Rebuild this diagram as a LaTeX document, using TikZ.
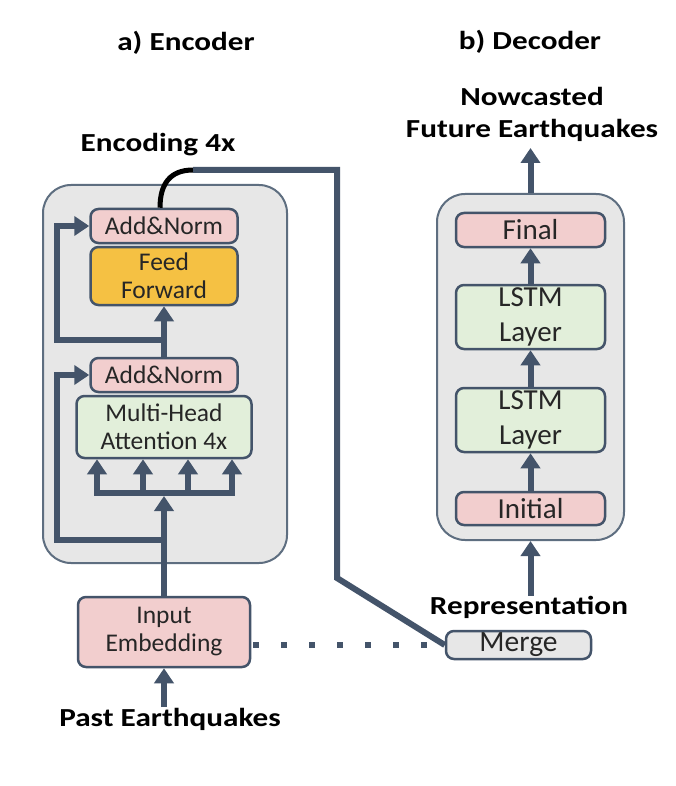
\documentclass[tikz,border=0pt]{standalone}
\usepackage{fontspec}
\setmainfont{Carlito}
\newfontfamily\ttlfont{Carlito}[FakeStretch=1.2]
\usetikzlibrary{arrows.meta}
\definecolor{navy}{HTML}{44546A}
\definecolor{pinkf}{HTML}{F2CECE}
\definecolor{greenf}{HTML}{E2EFDA}
\definecolor{goldf}{HTML}{F5C143}
\definecolor{contf}{HTML}{E7E7E7}
\definecolor{contb}{HTML}{5E6E80}
\definecolor{grayf}{HTML}{E7E7E7}
\definecolor{txt}{HTML}{262626}
\tikzset{
  box/.style={draw=navy, line width=2.5pt, rounded corners=8pt, text=txt,
    font=\fontsize{25.5}{28}\selectfont, align=center, inner sep=0pt},
  pinkbox/.style={box, fill=pinkf},
  greenbox/.style={box, fill=greenf},
  goldbox/.style={box, fill=goldf},
  graybox/.style={box, fill=grayf},
  decfont/.style={font=\fontsize{29}{35}\selectfont},
  cont/.style={draw=contb, line width=2pt, fill=contf, rounded corners=28pt, inner sep=0pt},
  conn/.style={draw=navy, line width=6pt},
  arr/.style={conn, -{Triangle[width=19pt,length=15pt]}},
  ttl/.style={font=\ttlfont\bfseries\fontsize{26}{32}\selectfont, align=center, inner sep=0pt, text=black}
}
\begin{document}
\begin{tikzpicture}[x=1pt,y=-1pt]
\fill[white] (0,0) rectangle (676,786);
\useasboundingbox (0,0) rectangle (676,786);
% containers
\node[cont, minimum width=244pt, minimum height=378pt] (enc) at (165,374) {};
\node[cont, minimum width=187pt, minimum height=346pt] (dec) at (530.5,367) {};
% encoder boxes
\node[pinkbox, minimum width=147pt, minimum height=34pt] (an2) at (164,226) {Add\&Norm};
\node[goldbox, minimum width=147pt, minimum height=58pt] (ff) at (164,276) {Feed\\Forward};
\node[pinkbox, minimum width=147pt, minimum height=34pt] (an1) at (164,375) {Add\&Norm};
\node[greenbox, minimum width=175pt, minimum height=62pt] (mha) at (164,427) {Multi-Head\\Attention 4x};
\node[pinkbox, minimum width=172pt, minimum height=70pt] (emb) at (164,632) {Input\\Embedding};
\node[graybox, minimum width=145pt, minimum height=28pt, font=\fontsize{29.5}{30}\selectfont] (merge) at (518.5,645) {Merge};
% decoder boxes
\node[pinkbox, decfont, minimum width=149pt, minimum height=34pt] (final) at (530.5,230) {Final};
\node[greenbox, decfont, minimum width=149pt, minimum height=64pt] (lstmb) at (530.5,317) {LSTM\\Layer};
\node[greenbox, decfont, minimum width=149pt, minimum height=64pt] (lstma) at (530.5,420) {LSTM\\Layer};
\node[pinkbox, decfont, minimum width=149pt, minimum height=33pt] (init) at (530.5,508.5) {Initial};
% labels
\node[ttl] (tenc) at (186,43) {a) Encoder};
\node[ttl] (tdec) at (530,42) {b) Decoder};
\node[ttl] (tencx) at (158,145) {Encoding 4x};
\node[ttl] (tout) at (532,114) {Nowcasted\\Future Earthquakes};
\node[ttl] (trep) at (529,607) {Representation};
\node[ttl] (tpast) at (170,719) {Past Earthquakes};
% coordinates
\coordinate (pasttail) at (164,707);
\coordinate (bartip) at (164,496);
\coordinate (b1) at (97,493);
\coordinate (b2) at (143,493);
\coordinate (b3) at (188,493);
\coordinate (b4) at (232,493);
\coordinate (r1) at (164,540);
\coordinate (l1) at (57,540);
\coordinate (r2) at (164,340);
\coordinate (l2) at (57,340);
\coordinate (c1) at (193,170);
\coordinate (c2) at (337,170);
\coordinate (c3) at (337,578);
\coordinate (outtip) at (530.5,148);
% encoder connectors
\draw[arr] (pasttail) -- (emb.south);
\draw[arr] (emb.north) -- (bartip);
\draw[conn, line cap=rect] (b1) -- (b4);
\draw[arr] (b1) -- (b1 |- mha.south);
\draw[arr] (b2) -- (b2 |- mha.south);
\draw[arr] (b3) -- (b3 |- mha.south);
\draw[arr] (b4) -- (b4 |- mha.south);
\draw[arr] (r1) -- (l1) -- (l1 |- an1.west) -- (an1.west);
\draw[arr] (an1.north) -- (ff.south);
\draw[arr] (r2) -- (l2) -- (l2 |- an2.west) -- (an2.west);
\draw[black, line width=5pt] ([xshift=-4pt]an2.north) .. controls (160,184) and (170,170) .. (c1);
\draw[conn] (c1) -- (c2) -- (c3) -- (merge.west);
\draw[draw=navy, line width=6pt, dash pattern=on 6pt off 22pt, shorten <=2pt] (emb.east |- merge.west) -- (merge.west);
% decoder connectors
\draw[arr] (dec.south |- trep.north) -- (dec.south);
\draw[arr] (init.north) -- (lstma.south);
\draw[arr] (lstma.north) -- (lstmb.south);
\draw[arr] (lstmb.north) -- (final.south);
\draw[arr] (dec.north) -- (outtip);
\end{tikzpicture}
\end{document}
